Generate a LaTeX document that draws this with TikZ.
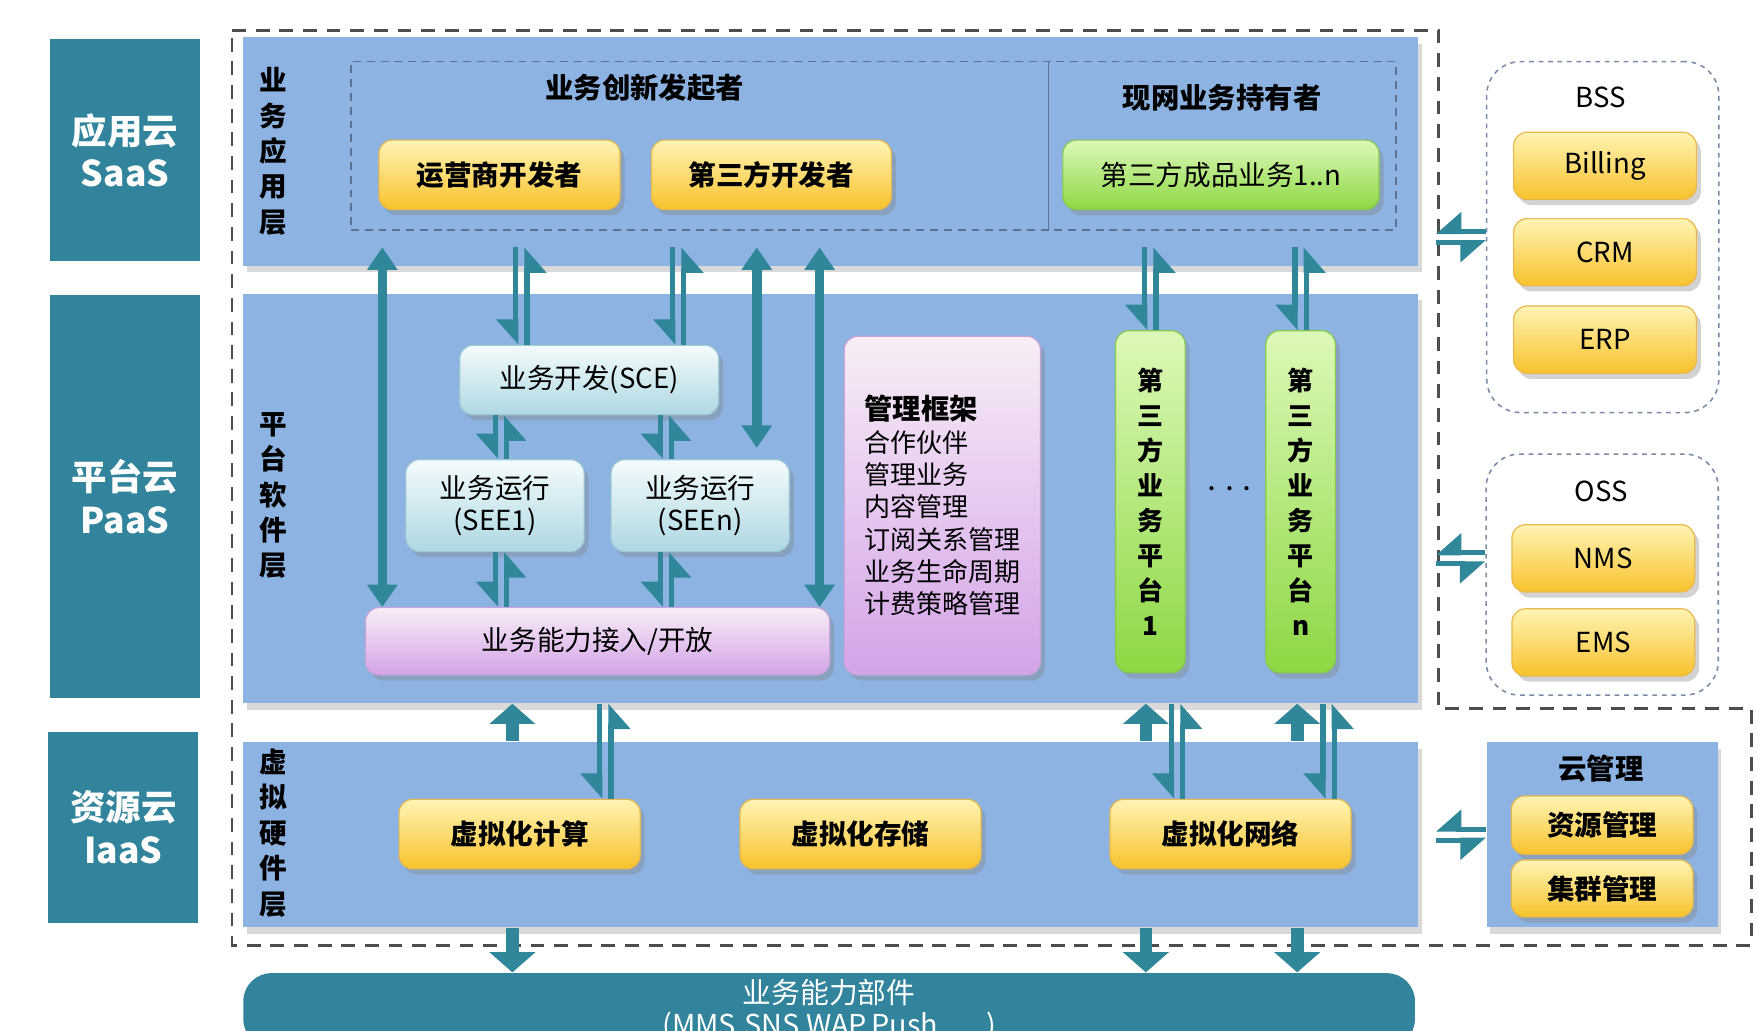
\documentclass[tikz,border=0pt]{standalone}
\usepackage{fontspec}
\setmainfont{Noto Sans CJK SC}
\usetikzlibrary{positioning,arrows.meta,shadows}

\definecolor{labelteal}{HTML}{31849B}
\definecolor{arrowteal}{HTML}{2F8799}
\definecolor{layerblue}{HTML}{8DB3E2}
\definecolor{yellowtop}{HTML}{FFF4B4}
\definecolor{yellowbot}{HTML}{F8C22C}
\definecolor{yellowline}{HTML}{E8B84A}
\definecolor{greentop}{HTML}{DDF8B8}
\definecolor{greenbot}{HTML}{8CD843}
\definecolor{greenline}{HTML}{86C94A}
\definecolor{cyantop}{HTML}{F4FBFC}
\definecolor{cyanbot}{HTML}{AED8E3}
\definecolor{cyanline}{HTML}{9CC8D4}
\definecolor{pinktop}{HTML}{F8EEF6}
\definecolor{pinkbot}{HTML}{D3A3E8}
\definecolor{pinkline}{HTML}{C9A3D8}
\definecolor{dashgray}{HTML}{4D4D4D}
\definecolor{boxdash}{HTML}{7A8CA5}
\definecolor{innerdash}{HTML}{5D7293}

\tikzset{
  cloudlabel/.style={fill=labelteal, text=white, align=center, inner sep=0pt,
    minimum width=1.33cm, font=\fontsize{9}{10.8}\selectfont\bfseries},
  layer/.style={fill=layerblue, inner sep=0pt, minimum width=10.48cm,
    drop shadow={shadow xshift=0.3mm, shadow yshift=-0.6mm, opacity=0.3}},
  layertitle/.style={align=center, font=\fontsize{7}{9}\selectfont\bfseries},
  ybox/.style={rounded corners=1.2mm, top color=yellowtop, bottom color=yellowbot,
    draw=yellowline, line width=0.3pt, inner sep=0pt, minimum height=0.62cm,
    align=center, font=\fontsize{7}{8.2}\selectfont,
    drop shadow={shadow xshift=0.4mm, shadow yshift=-0.5mm, opacity=0.35}},
  ybold/.style={ybox, font=\fontsize{7}{8.2}\selectfont\bfseries},
  gbox/.style={ybox, top color=greentop, bottom color=greenbot, draw=greenline},
  cbox/.style={ybox, top color=cyantop, bottom color=cyanbot, draw=cyanline},
  pbox/.style={ybox, top color=pinktop, bottom color=pinkbot, draw=pinkline},
  dashbox/.style={draw=boxdash, dash pattern=on 1.2pt off 1.2pt, rounded corners=3mm,
    fill=white, minimum width=2.07cm, inner sep=0pt},
  bigarrow/.style={draw=arrowteal, line width=2.4pt,
    {Triangle[length=2mm,width=2.6mm]}-{Triangle[length=2mm,width=2.6mm]}},
  blockarrow/.style={draw=arrowteal, line width=3.2pt, -{Triangle[length=1.8mm,width=4mm]}},
  harpoonline/.style={draw=arrowteal, line width=1.3pt,
    -{Triangle[harpoon,swap,length=2mm,width=3.4mm]}},
}

% pairs of harpoons, down/up and left/right
\newcommand{\vharp}[2]{%
  \draw[harpoonline] ([xshift=-0.5mm]#1) -- ([xshift=-0.5mm]#2);
  \draw[harpoonline] ([xshift=0.5mm]#2) -- ([xshift=0.5mm]#1);}
\newcommand{\hharp}[2]{%
  \draw[harpoonline] ([yshift=0.5mm]#1) -- ([yshift=0.5mm]#2);
  \draw[harpoonline] ([yshift=-0.5mm]#2) -- ([yshift=-0.5mm]#1);}

\begin{document}
\begin{tikzpicture}
    \useasboundingbox (0,0) rectangle (15.68,9.19);
    \clip (0,0) rectangle (15.68,9.19);

    \node[cloudlabel, minimum height=1.98cm] (saas) at (1.115,7.85) {应用云\\SaaS};
    \node[cloudlabel, minimum height=3.60cm] (paas) at (1.115,4.76) {平台云\\PaaS};
    \node[cloudlabel, minimum height=1.70cm, minimum width=1.34cm] (iaas) at (1.10,1.81) {资源云\\IaaS};

    \draw[dashgray, line width=0.7pt, dash pattern=on 3.5pt off 2.5pt]
      (2.07,8.92) -- (12.83,8.92) -- (12.83,2.87) -- (15.62,2.87) -- (15.62,0.76) -- (2.07,0.76) -- cycle;

    \begin{scope}
      \node[layer, minimum height=2.04cm] (applayer) at (7.41,7.84) {};
      \node[layer, minimum height=3.65cm] (platlayer) at (7.41,4.745) {};
      \node[layer, minimum height=1.65cm] (virtlayer) at (7.41,1.745) {};
      \node[layer, minimum width=2.06cm, minimum height=1.65cm] (cloudmgmt) at (14.29,1.745) {};
      \node[fill=labelteal, rounded corners=2.5mm, text=white, align=center, inner sep=0pt,
        minimum width=10.45cm, minimum height=0.66cm, font=\fontsize{7.3}{8}\selectfont]
        (capability) at (7.395,0.18) {业务能力部件\\(MMS,SNS,WAP,Push......)};
    \end{scope}

    \node[layertitle] (applabel) at (2.44,7.84) {业\\务\\应\\用\\层};
    \node[layertitle] (platlabel) at (2.44,4.77) {平\\台\\软\\件\\层};
    \node[layertitle] (virtlabel) at (2.44,1.76) {虚\\拟\\硬\\件\\层};

    % application layer
    \node[draw=innerdash, dash pattern=on 2pt off 1.5pt, minimum width=9.32cm, minimum height=1.50cm,
      inner sep=0pt] (appinner) at (7.79,7.89) {};
    \draw[innerdash, line width=0.4pt] (appinner.north -| 9.35,0) -- (appinner.south -| 9.35,0);
    \node[font=\fontsize{7.2}{8}\selectfont\bfseries] (innovhead) at (5.75,8.41) {业务创新发起者};
    \node[font=\fontsize{7.2}{8}\selectfont\bfseries] (ownerhead) at (10.90,8.32) {现网业务持有者};
    \node[ybold, minimum width=2.15cm] (operdev) at (4.455,7.63) {运营商开发者};
    \node[ybold, minimum width=2.14cm] (thirddev) at (6.88,7.63) {第三方开发者};
    \node[gbox, minimum width=2.82cm] (thirdsvc) at (10.89,7.63) {第三方成品业务1..n};

    % platform layer
    \node[cbox, minimum width=2.31cm] (sce) at (5.255,5.80) {业务开发(SCE)};
    \node[cbox, minimum width=1.59cm, minimum height=0.82cm] (see1) at (4.415,4.68) {业务运行\\(SEE1)};
    \node[cbox, minimum width=1.59cm, minimum height=0.82cm] (seen) at (6.245,4.68) {业务运行\\(SEEn)};
    \node[pbox, minimum width=4.14cm, minimum height=0.60cm] (access) at (5.33,3.47) {业务能力接入/开放};
    \node[pbox, minimum width=1.75cm, minimum height=3.02cm, align=left, font=\fontsize{6.6}{8.2}\selectfont]
      (mgmt) at (8.405,4.68) {{\fontsize{7.2}{8.2}\selectfont\bfseries 管理框架}\\合作伙伴\\管理业务\\内容管理\\订阅关系管理\\业务生命周期\\计费策略管理};
    \node[gbox, minimum width=0.62cm, minimum height=3.05cm, font=\fontsize{6.6}{8.9}\selectfont\bfseries]
      (plat1) at (10.26,4.715) {第\\三\\方\\业\\务\\平\\台\\1};
    \node[gbox, minimum width=0.62cm, minimum height=3.05cm, font=\fontsize{6.6}{8.9}\selectfont\bfseries]
      (platn) at (11.60,4.715) {第\\三\\方\\业\\务\\平\\台\\n};
    \node (dots) at (10.97,4.82) {$\cdots$};

    % virtual hardware layer
    \node[ybold, minimum width=2.15cm] (compute) at (4.635,1.75) {虚拟化计算};
    \node[ybold, minimum width=2.15cm] (storage) at (7.675,1.75) {虚拟化存储};
    \node[ybold, minimum width=2.15cm] (network) at (10.975,1.75) {虚拟化网络};

    % BSS, OSS and cloud management
    \node[dashbox, minimum height=3.13cm] (bss) at (14.295,7.075) {};
    \node[font=\fontsize{7}{8}\selectfont] (bsstitle) at (14.28,8.32) {BSS};
    \node[ybox, minimum width=1.63cm, minimum height=0.60cm] (billing) at (14.315,7.71) {Billing};
    \node[ybox, minimum width=1.63cm, minimum height=0.60cm] (crm) at (14.315,6.94) {CRM};
    \node[ybox, minimum width=1.63cm, minimum height=0.60cm] (erp) at (14.315,6.16) {ERP};
    \node[dashbox, minimum height=2.15cm] (oss) at (14.29,4.065) {};
    \node[font=\fontsize{7}{8}\selectfont] (osstitle) at (14.28,4.81) {OSS};
    \node[ybox, minimum width=1.63cm, minimum height=0.60cm] (nms) at (14.30,4.21) {NMS};
    \node[ybox, minimum width=1.63cm, minimum height=0.60cm] (ems) at (14.30,3.46) {EMS};
    \node[font=\fontsize{7.2}{8}\selectfont\bfseries] (cmtitle) at (14.28,2.33) {云管理};
    \node[ybold, minimum width=1.62cm, minimum height=0.52cm] (resmgmt) at (14.29,1.83) {资源管理};
    \node[ybold, minimum width=1.62cm, minimum height=0.51cm] (clustermgmt) at (14.29,1.265) {集群管理};

    % arrows
    \coordinate (apptop) at ([yshift=-1.5mm]appinner.south);
    \draw[bigarrow] (apptop -| 3.41,0) -- (access.north -| 3.41,0);
    \vharp{apptop -| 4.65,0}{sce.north -| 4.65,0}
    \vharp{apptop -| 6.05,0}{sce.north -| 6.05,0}
    \draw[bigarrow, shorten >=1mm] (apptop -| 6.75,0) -- (seen.north -| 6.75,0);
    \draw[bigarrow] (apptop -| 7.31,0) -- (access.north -| 7.31,0);
    \vharp{sce.south -| 4.47,0}{see1.north -| 4.47,0}
    \vharp{sce.south -| 5.94,0}{seen.north -| 5.94,0}
    \vharp{see1.south -| 4.47,0}{access.north -| 4.47,0}
    \vharp{seen.south -| 5.94,0}{access.north -| 5.94,0}
    \vharp{apptop -| plat1.north}{plat1.north}
    \vharp{apptop -| platn.north}{platn.north}

    \draw[blockarrow] (virtlayer.north -| 4.57,0) -- (platlayer.south -| 4.57,0);
    \vharp{platlayer.south -| 5.40,0}{compute.north -| 5.40,0}
    \draw[blockarrow] (virtlayer.north -| 10.22,0) -- (platlayer.south -| 10.22,0);
    \vharp{platlayer.south -| 10.50,0}{network.north -| 10.50,0}
    \draw[blockarrow] (virtlayer.north -| 11.57,0) -- (platlayer.south -| 11.57,0);
    \vharp{platlayer.south -| 11.85,0}{network.north -| 11.85,0}

    \draw[blockarrow] (virtlayer.south -| 4.57,0) -- (capability.north -| 4.57,0);
    \draw[blockarrow] (virtlayer.south -| 10.22,0) -- (capability.north -| 10.22,0);
    \draw[blockarrow] (virtlayer.south -| 11.57,0) -- (capability.north -| 11.57,0);

    \coordinate (bssport) at ([xshift=1.5mm]applayer.east |- bss.west);
    \coordinate (ossport) at ([xshift=1.5mm]platlayer.east |- nms.west);
    \coordinate (cmport) at ([xshift=1.5mm]virtlayer.east |- cloudmgmt.west);
    \hharp{bss.west}{bssport}
    \hharp{oss.west |- nms.west}{ossport}
    \hharp{cloudmgmt.west}{cmport}

\end{tikzpicture}
\end{document}
